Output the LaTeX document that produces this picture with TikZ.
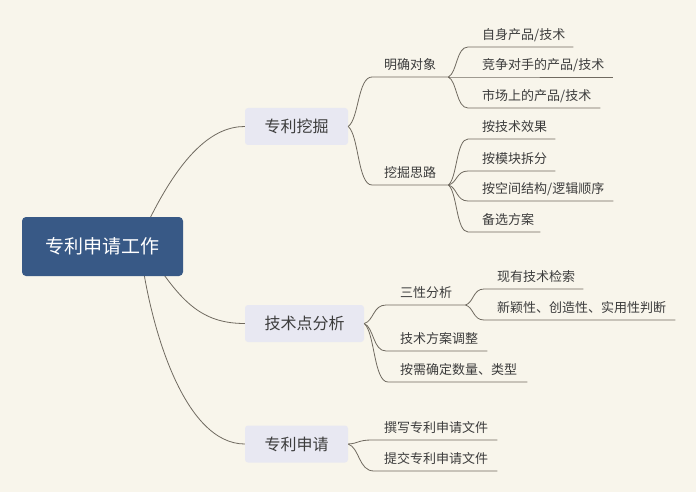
\documentclass[tikz,border=0pt]{standalone}
\usepackage{fontspec}
\setmainfont{Noto Sans CJK SC}
\usetikzlibrary{calc}
\pgfdeclarelayer{bg}
\pgfsetlayers{bg,main}
\definecolor{paper}{RGB}{248,245,235}
\definecolor{rootblue}{RGB}{56,89,134}
\definecolor{lav}{RGB}{232,232,242}
\definecolor{linec}{RGB}{112,106,96}
\definecolor{txt}{RGB}{60,60,60}
\newcommand\ltx[3]{\makebox[#2pt][l]{\hspace*{#1pt}#3}}
\newcommand\linkc[2]{\draw[conn] let \p1=(#1), \p2=(#2.south west) in (\p1) .. controls ({\x1+0.45*(\x2-\x1)},{\y1+0.15*(\y2-\y1)}) and ({\x1+0.4*(\x2-\x1)},\y2) .. (\p2) -- (#2.south east);}
\tikzset{
  conn/.style={draw=linec, line width=0.8pt},
  rootbox/.style={fill=rootblue, rounded corners=4pt, minimum width=161pt, minimum height=59pt, inner sep=0pt, text=white, font=\fontsize{19}{22}\selectfont},
  topic/.style={fill=lav, rounded corners=3pt, minimum height=37pt, inner sep=0pt, text=txt, font=\fontsize{16}{19}\selectfont},
  leaf/.style={anchor=south west, inner xsep=0pt, inner ysep=4pt, text height=10pt, text depth=3pt, text=txt, font=\fontsize{13}{15}\selectfont}
}
\begin{document}
\begin{tikzpicture}[x=1pt,y=-1pt]
\useasboundingbox (0,0) rectangle (696,492);
% main nodes
\node[rootbox] (root) at (102.5,246.5) {专利申请工作};
\node[topic, minimum width=103pt] (k1) at (296.5,126.5) {专利挖掘};
\node[topic, minimum width=119pt] (k2) at (304.5,323.5) {技术点分析};
\node[topic, minimum width=103pt] (k3) at (296.5,444) {专利申请};
% level 2 / 3
\node[leaf] (m1) at (372,77) {\ltx{12}{76}{明确对象}};
\node[leaf] (m2) at (372,185) {\ltx{12}{76}{挖掘思路}};
\node[leaf] (a1) at (468,47) {\ltx{14}{105}{自身产品/技术}};
\node[leaf] (a2) at (468,77) {\ltx{14}{145}{竞争对手的产品/技术}};
\node[leaf] (a3) at (468,108) {\ltx{14}{132}{市场上的产品/技术}};
\node[leaf] (b1) at (468,139) {\ltx{14}{87}{按技术效果}};
\node[leaf] (b2) at (468,171) {\ltx{14}{87}{按模块拆分}};
\node[leaf] (b3) at (468,201) {\ltx{14}{145}{按空间结构/逻辑顺序}};
\node[leaf] (b4) at (468,232) {\ltx{14}{72}{备选方案}};
\node[leaf] (s1) at (386,305) {\ltx{14}{79}{三性分析}};
\node[leaf] (s2) at (386,351) {\ltx{14}{101}{技术方案调整}};
\node[leaf] (s3) at (388,382) {\ltx{12}{139}{按需确定数量、类型}};
\node[leaf] (t1) at (484,289) {\ltx{13}{99}{现有技术检索}};
\node[leaf] (t2) at (484,320) {\ltx{13}{191}{新颖性、创造性、实用性判断}};
\node[leaf] (p1) at (372,440) {\ltx{12}{125}{撰写专利申请文件}};
\node[leaf] (p2) at (374,471) {\ltx{10}{123}{提交专利申请文件}};
% connectors
\linkc{k1.east}{m1}
\linkc{k1.east}{m2}
\linkc{m1.south east}{a1}
\linkc{m1.south east}{a2}
\linkc{m1.south east}{a3}
\linkc{m2.south east}{b1}
\linkc{m2.south east}{b2}
\linkc{m2.south east}{b3}
\linkc{m2.south east}{b4}
\linkc{k2.east}{s1}
\linkc{k2.east}{s2}
\linkc{k2.east}{s3}
\linkc{s1.south east}{t1}
\linkc{s1.south east}{t2}
\linkc{k3.east}{p1}
\linkc{k3.east}{p2}
\begin{pgfonlayer}{bg}
\fill[paper] (0,0) rectangle (696,492);
\draw[conn] ($(root.center)+(37,-6)$) .. controls (180,150) and (215,126.5) .. (k1.west);
\draw[conn] ($(root.center)+(57,22)$) .. controls (185,305) and (205,323.5) .. (k2.west);
\draw[conn] ($(root.center)+(37.5,0)$) .. controls (150,330) and (185,444) .. (k3.west);
\end{pgfonlayer}
\end{tikzpicture}
\end{document}
